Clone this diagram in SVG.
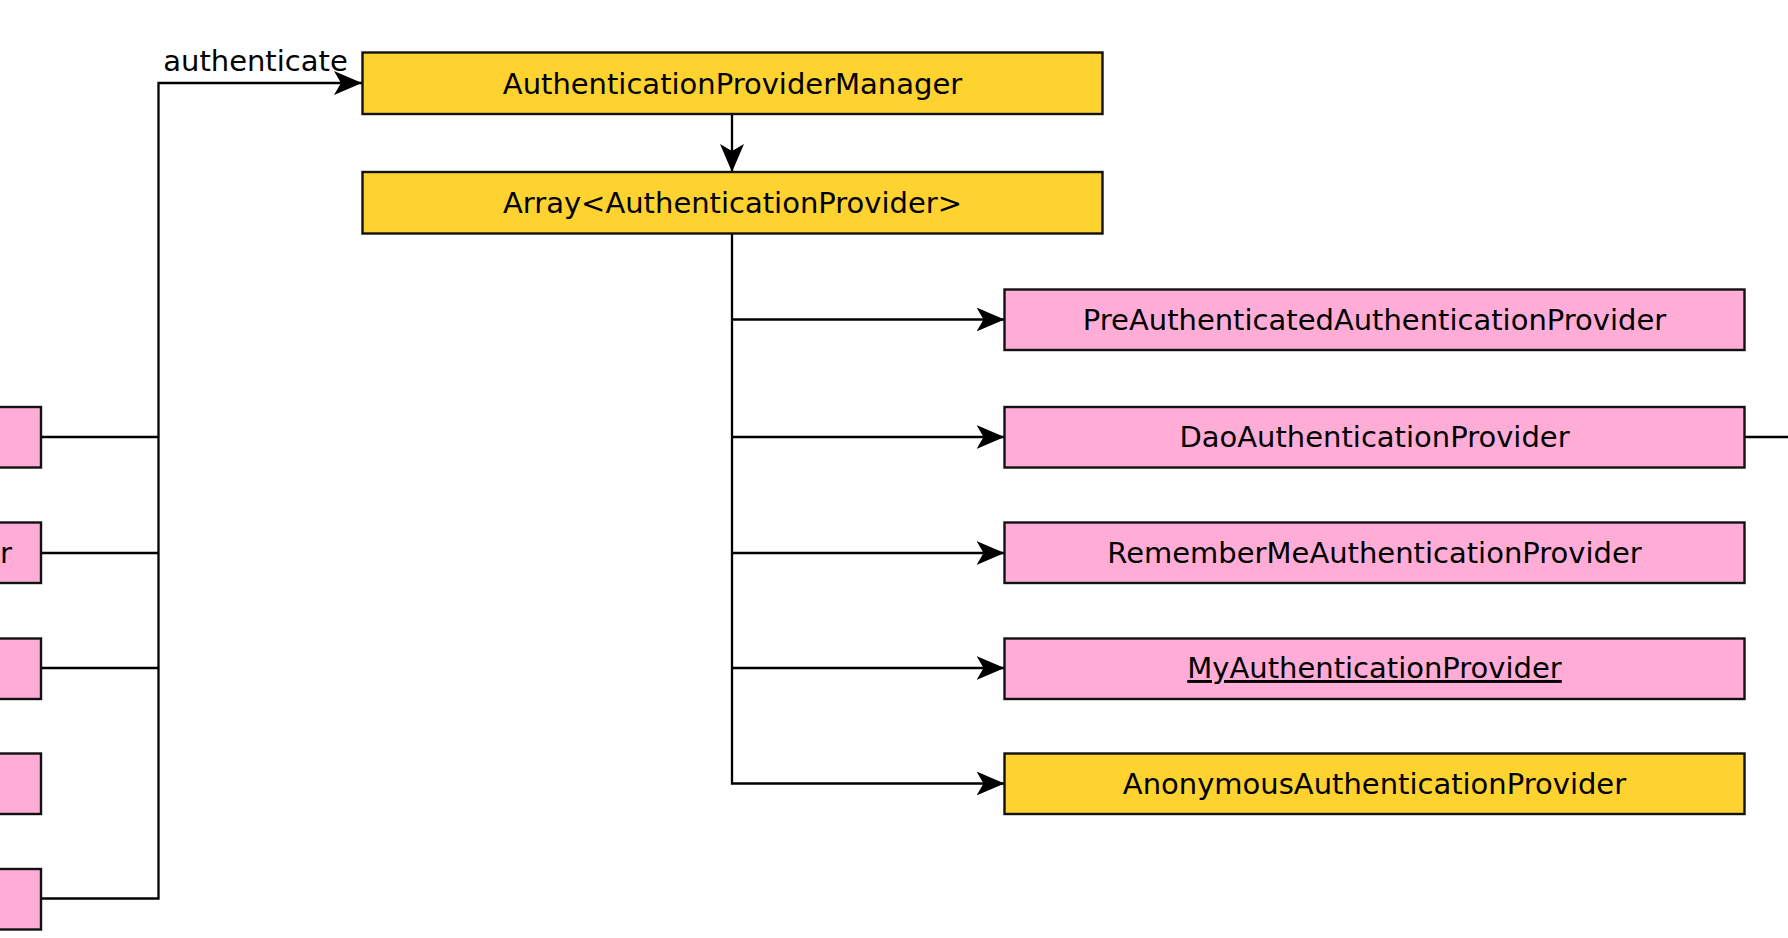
<svg xmlns="http://www.w3.org/2000/svg" width="1788" height="938" viewBox="0 0 1788 938">
<style>
.y{fill:#FED22F;stroke:#111;stroke-width:2.4}
.p{fill:#FFADD6;stroke:#111;stroke-width:2.4}
.t{font-family:"DejaVu Sans","Liberation Sans",sans-serif;font-size:29px;fill:#000;text-anchor:middle}
.c{fill:none;stroke:#000;stroke-width:2.3}
</style>
<defs>
<marker id="ar" viewBox="0 0 28 24" refX="28" refY="12" markerWidth="28" markerHeight="24" markerUnits="userSpaceOnUse" orient="auto">
<path d="M0,0 L28,12 L0,24 L7,12 Z" fill="#000"/>
</marker>
</defs>
<rect width="1788" height="938" fill="#fff"/>
<g id="connectors">
<path class="c" d="M42,437 H158.5"/>
<path class="c" d="M42,553 H158.5"/>
<path class="c" d="M42,668 H158.5"/>
<path class="c" d="M42,898.5 H158.5 V83 H362" marker-end="url(#ar)"/>
<path class="c" d="M732,114 V172" marker-end="url(#ar)"/>
<path class="c" d="M732,234 V783.5 H1004.5" marker-end="url(#ar)"/>
<path class="c" d="M732,319.5 H1004.5" marker-end="url(#ar)"/>
<path class="c" d="M732,437 H1004.5" marker-end="url(#ar)"/>
<path class="c" d="M732,553 H1004.5" marker-end="url(#ar)"/>
<path class="c" d="M732,668 H1004.5" marker-end="url(#ar)"/>
<path class="c" d="M1744.5,437 H1790"/>
<text class="t" x="255.5" y="70.5">authenticate</text>
</g>
<g id="apm"><rect class="y" x="362.5" y="52.5" width="740" height="61.5"/><text class="t" x="732.5" y="93.5">AuthenticationProviderManager</text></g>
<g id="array"><rect class="y" x="362.5" y="172" width="740" height="61.5"/><text class="t" x="732.5" y="213">Array&lt;AuthenticationProvider&gt;</text></g>
<g id="preauth"><rect class="p" x="1004.5" y="289.5" width="740" height="60.5"/><text class="t" x="1374.5" y="329.5">PreAuthenticatedAuthenticationProvider</text></g>
<g id="dao"><rect class="p" x="1004.5" y="407" width="740" height="60.5"/><text class="t" x="1374.5" y="447">DaoAuthenticationProvider</text></g>
<g id="rememberme"><rect class="p" x="1004.5" y="522.5" width="740" height="60.5"/><text class="t" x="1374.5" y="563">RememberMeAuthenticationProvider</text></g>
<g id="my"><rect class="p" x="1004.5" y="638.5" width="740" height="60.5"/><text class="t" x="1374.5" y="678" text-decoration="underline">MyAuthenticationProvider</text></g>
<g id="anonymous"><rect class="y" x="1004.5" y="753.5" width="740" height="60.5"/><text class="t" x="1374.5" y="793.5">AnonymousAuthenticationProvider</text></g>
<g id="left1"><rect class="p" x="-20" y="407" width="61" height="60.5"/></g>
<g id="left2"><rect class="p" x="-20" y="522.5" width="61" height="60.5"/><text class="t" x="6" y="563">r</text></g>
<g id="left3"><rect class="p" x="-20" y="638.5" width="61" height="60.5"/></g>
<g id="left4"><rect class="p" x="-20" y="753.5" width="61" height="60.5"/></g>
<g id="left5"><rect class="p" x="-20" y="869" width="61" height="60.5"/></g>
</svg>
